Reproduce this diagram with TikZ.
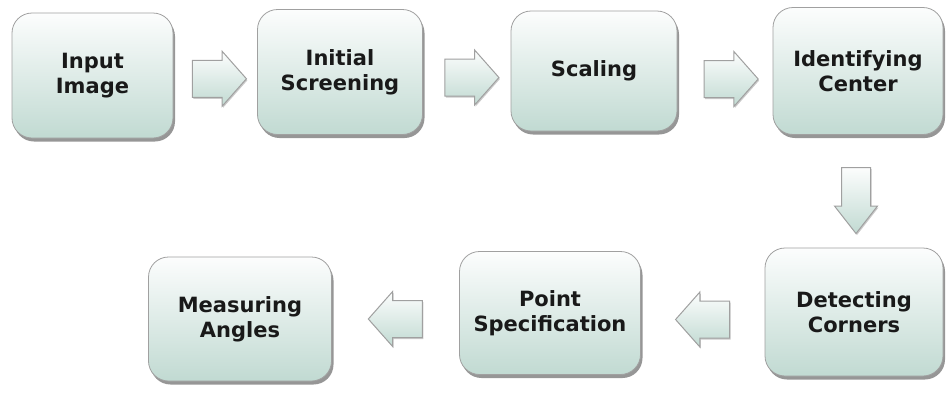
\documentclass[tikz,border=0pt]{standalone}
\usepackage{fontspec}
\setmainfont{DejaVu Sans}
\usetikzlibrary{shapes.arrows,shadows,calc}
\definecolor{boxtop}{RGB}{252,253,253}
\definecolor{boxbottom}{RGB}{193,218,210}
\definecolor{boxline}{RGB}{160,160,160}
\tikzset{
  stepbox/.style={draw=boxline, line width=0.8pt, rounded corners=20pt,
    top color=boxtop, bottom color=boxbottom, minimum width=165pt,
    minimum height=125pt, align=center, text=black!90,
    font=\bfseries\fontsize{21}{25}\selectfont,
    drop shadow={shadow xshift=2pt, shadow yshift=-3.5pt, opacity=0.55, fill=black!75}},
  flowarrow/.style={single arrow, draw=boxline, line width=1pt,
    top color=boxtop, bottom color=boxbottom, inner xsep=0pt, inner ysep=18pt,
    minimum height=54pt, single arrow head extend=9pt, single arrow tip angle=97,
    drop shadow={shadow xshift=1pt, shadow yshift=-1.5pt, opacity=0.35, fill=black!60}}
}
\begin{document}
\begin{tikzpicture}[x=1pt,y=-1pt]
\useasboundingbox (0,0) rectangle (946,394);
% top row
\node [stepbox, minimum width=161pt] (inp) at (92.5,75.5) {Input\\Image};
\node [stepbox] (scr) at (340,72) {Initial\\Screening};
\node [stepbox, minimum width=166pt, minimum height=120pt] (scl) at (594,71) {Scaling};
\node [stepbox, minimum width=170pt, minimum height=127pt] (idc) at (858,71) {Identifying\\Center};
% bottom row
\node [stepbox, minimum width=178pt, minimum height=128pt] (det) at (854,312) {Detecting\\Corners};
\node [stepbox, minimum width=181pt, minimum height=123pt] (pts) at (550,313) {Point\\Specification};
\node [stepbox, minimum width=183pt, minimum height=124pt] (mea) at (240,319) {Measuring\\Angles};
% block arrows
\node [flowarrow, yshift=-5pt, xshift=-4pt] (a1) at ($(inp.east)!0.5!(scr.west)$) {};
\node [flowarrow, yshift=-6pt, xshift=-3pt] (a2) at ($(scr.east)!0.5!(scl.west)$) {};
\node [flowarrow, yshift=-8pt, xshift=-2pt] (a3) at ($(scl.east)!0.5!(idc.west)$) {};
\node [flowarrow, rotate=-90, minimum height=66pt, inner ysep=14pt,
  single arrow head extend=7pt, single arrow tip angle=76] (a4) at ($(idc.south)!0.5!(det.north)$) {};
\node [flowarrow, rotate=180, yshift=7pt, xshift=-8pt] (a5) at ($(det.west)!0.5!(pts.east)$) {};
\node [flowarrow, rotate=180, yshift=3pt, xshift=-8pt] (a6) at ($(pts.west)!0.5!(mea.east)$) {};
\end{tikzpicture}
\end{document}
